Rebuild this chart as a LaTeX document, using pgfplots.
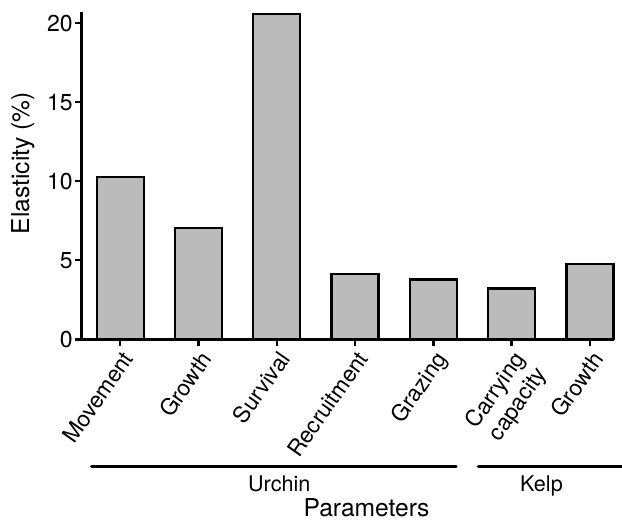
\documentclass[border=0pt]{standalone}
\usepackage{fontspec}
\setmainfont{TeX Gyre Heros}
\usepackage{pgfplots}
\pgfplotsset{compat=1.18}
\definecolor{barfill}{RGB}{187,187,187}
\begin{document}
\begin{tikzpicture}
\useasboundingbox (-41pt,-90.35pt) rectangle (270pt,169.65pt);
\begin{axis}[
  at={(0,0)}, anchor=south west,
  scale only axis, width=266pt, height=163.8pt,
  xmin=-0.488, xmax=6.307, ymin=0, ymax=20.73,
  clip=false,
  ybar,
  axis lines*=left,
  axis line style={line width=1.5pt},
  ytick={0,5,10,15,20},
  xtick={0,1,2,3,4,5,6},
  xticklabels={Movement,Growth,Survival,Recruitment,Grazing,{Carrying\\capacity},Growth},
  tick align=outside,
  major tick length=3.5pt,
  tick style={line width=1.2pt, black},
  /pgf/number format/assume math mode=true,
  xticklabel style={rotate=55, anchor=north east, align=right, font=\fontsize{11.3}{12.9}\selectfont, inner sep=1pt},
  yticklabel style={font=\fontsize{11.5}{13}\selectfont, inner sep=1pt},
  ylabel={Elasticity (\%)},
  ylabel style={at={(axis description cs:-0.111,0.538)}, anchor=center, font=\fontsize{12.3}{14}\selectfont},
  xlabel={Parameters},
  xlabel style={at={(axis description cs:0.5348,-0.5394)}, anchor=base, font=\fontsize{12.3}{14}\selectfont},
]
\addplot[fill=barfill, draw=black, line width=1.1pt, bar width=0.6]
  coordinates {(0,10.27) (1,7.06) (2,20.6) (3,4.15) (4,3.78) (5,3.21) (6,4.78)};
\end{axis}
\draw[line width=1.75pt, line cap=round] (4.85pt,-63.7pt) -- (187pt,-63.7pt);
\draw[line width=1.75pt, line cap=round] (198.2pt,-63.7pt) -- (275pt,-63.7pt);
\node[anchor=base, font=\fontsize{10.8}{12}\selectfont, inner sep=0pt] at (98.65pt,-75.85pt) {Urchin};
\node[anchor=base, font=\fontsize{10.8}{12}\selectfont, inner sep=0pt] at (229.75pt,-75.85pt) {Kelp};
\end{tikzpicture}
\end{document}
